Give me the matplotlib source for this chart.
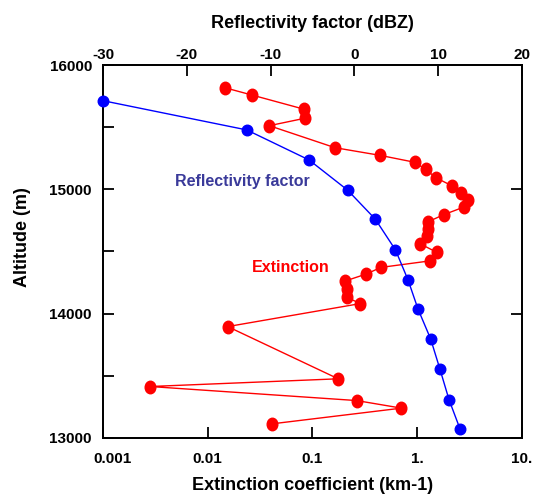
import numpy as np
import matplotlib
matplotlib.use("Agg")
from matplotlib import pyplot as plt
from matplotlib.path import Path
from matplotlib.transforms import Affine2D, ScaledTranslation
from matplotlib.ticker import FixedLocator, NullLocator, MultipleLocator

plt.rcParams['font.family'] = ['Liberation Sans', 'DejaVu Sans']
plt.rcParams['font.weight'] = 'bold'
plt.rcParams['axes.unicode_minus'] = False

# reflectivity profile (top axis, dBZ)
refl_alt = [15713, 15478, 15236, 14993, 14760, 14513, 14272, 14036, 13797, 13556, 13307, 13074]
refl_dbz = [-30.0, -12.85, -5.4, -0.8, 2.5, 4.9, 6.4, 7.6, 9.1, 10.2, 11.3, 12.6]

# extinction profile (bottom axis, km-1, log)
ext_alt = [15817, 15759, 15644, 15572, 15512, 15335, 15273, 15218, 15160, 15094,
           15027, 14971, 14911, 14857, 14796, 14738, 14682, 14623, 14563, 14493,
           14424, 14372, 14318, 14262, 14199, 14131, 14081, 13896, 13476, 13414,
           13301, 13240, 13114]
ext_val = [0.0146, 0.0263, 0.0835, 0.0848, 0.0387, 0.164, 0.444, 0.942, 1.207, 1.503,
           2.16, 2.60, 3.03, 2.78, 1.79, 1.26, 1.27, 1.24, 1.06, 1.54,
           1.31, 0.451, 0.324, 0.204, 0.212, 0.2135, 0.286, 0.0155, 0.176, 0.00281,
           0.264, 0.7075, 0.0413]

ext_ticks = [0.001, 0.01, 0.1, 1, 10]
ext_ticklabels = ['0.001', '0.01', '0.1', '1.', '10.']
dbz_ticks = [-30, -20, -10, 0, 10, 20]

# slightly tall ellipse marker for the extinction points
oval = Path.unit_circle().transformed(Affine2D().scale(0.85, 1.0))

fig = plt.figure(figsize=(5.37, 4.94), dpi=100)
ax = fig.add_axes([0.1918, 0.1134, 0.7802, 0.755])
ax2 = ax.twiny()

ax.plot(ext_val, ext_alt, color='#ff0000', lw=1.0, marker=oval, ms=9,
        mec='#ff0000', mfc='#ff0000', clip_on=False, zorder=3)
ax2.plot(refl_dbz, refl_alt, color='#0000ff', lw=1.0, marker='o', ms=7.6,
         mec='#0000ff', mfc='#0000ff', clip_on=False, zorder=3)

ax.set_xscale('log')
ax.set_xlim(0.001, 10)
ax.set_ylim(13000, 16000)
ax.xaxis.set_major_locator(FixedLocator(ext_ticks))
ax.xaxis.set_minor_locator(NullLocator())
ax.set_xticklabels(ext_ticklabels)
ax.yaxis.set_major_locator(MultipleLocator(1000))
ax.yaxis.set_minor_locator(MultipleLocator(500))

ax2.set_xlim(-30, 20)
ax2.set_xticks(dbz_ticks)

for a in (ax, ax2):
    for s in a.spines.values():
        s.set_linewidth(1.3)

ax.tick_params(axis='both', which='both', direction='in', length=8, width=1.3,
               labelsize=11)
ax.tick_params(axis='y', which='major', right=True, pad=8)
ax.tick_params(axis='y', which='minor', right=False)
ax.tick_params(axis='x', pad=10)
ax2.tick_params(axis='x', direction='in', length=8, width=1.3, labelsize=11, pad=2.5)

# shift the first bottom label to the right like the original
lab = ax.get_xticklabels()[0]
lab.set_transform(lab.get_transform() + ScaledTranslation(10 / 100, 0, fig.dpi_scale_trans))

ax.set_xlabel('Extinction coefficient (km-1)', fontsize=13, fontweight='bold', labelpad=8)
ax2.set_xlabel('Reflectivity factor (dBZ)', fontsize=13, fontweight='bold', labelpad=14)
ax.set_ylabel('Altitude (m)', fontsize=13, fontweight='bold')
ax.yaxis.set_label_coords(-0.172, 0.539)

ax2.text(-21.4, 15060, 'Reflectivity factor', color='#3a3a9a', fontsize=11.5,
         fontweight='bold', ha='left', va='center')
ax2.text(-12.2, 14370, 'Extinction', color='#ff0000', fontsize=11.5,
         fontweight='bold', ha='left', va='center')

fig.savefig('out.png', dpi=100)
